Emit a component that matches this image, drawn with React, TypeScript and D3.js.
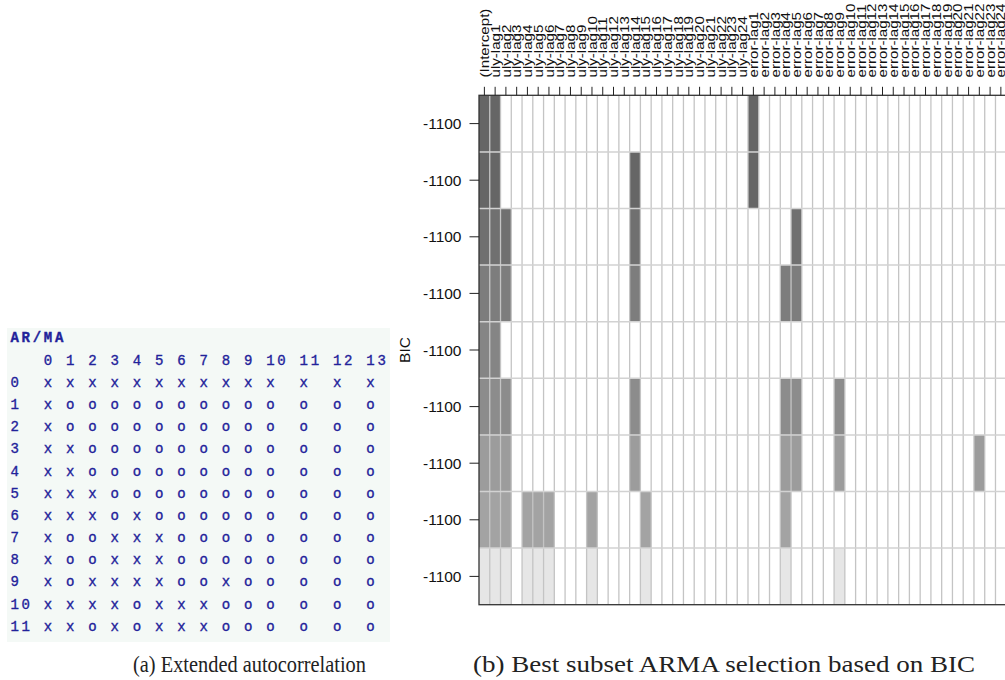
import React from "react";
import * as d3 from "d3";

// ---------- (a) Extended autocorrelation table ----------
const eacfAR = ["0", "1", "2", "3", "4", "5", "6", "7", "8", "9", "10", "11"];
const eacfMA = ["0", "1", "2", "3", "4", "5", "6", "7", "8", "9", "10", "11", "12", "13"];
const eacfSymbols = [
  "xxxxxxxxxxxxxx",
  "xooooooooooooo",
  "xooooooooooooo",
  "xxoooooooooooo",
  "xxoooooooooooo",
  "xxxooooooooooo",
  "xxxoxooooooooo",
  "xooxxxoooooooo",
  "xooxxxoooooooo",
  "xoxxxxooxooooo",
  "xxxxoxxxoooooo",
  "xxoxoxxxoooooo",
];

// ---------- (b) Best subset ARMA selection ----------
const subsetColumns = [
  "(Intercept)",
  "uly-lag1", "uly-lag2", "uly-lag3", "uly-lag4", "uly-lag5", "uly-lag6",
  "uly-lag7", "uly-lag8", "uly-lag9", "uly-lag10", "uly-lag11", "uly-lag12",
  "uly-lag13", "uly-lag14", "uly-lag15", "uly-lag16", "uly-lag17", "uly-lag18",
  "uly-lag19", "uly-lag20", "uly-lag21", "uly-lag22", "uly-lag23", "uly-lag24",
  "error-lag1", "error-lag2", "error-lag3", "error-lag4", "error-lag5", "error-lag6",
  "error-lag7", "error-lag8", "error-lag9", "error-lag10", "error-lag11", "error-lag12",
  "error-lag13", "error-lag14", "error-lag15", "error-lag16", "error-lag17", "error-lag18",
  "error-lag19", "error-lag20", "error-lag21", "error-lag22", "error-lag23", "error-lag24",
];
// BIC of each model row (top = best)
const modelBIC = [-1110, -1110, -1108, -1105.5, -1104, -1102.5, -1099.5, -1098, -1085];
// indices into subsetColumns of the terms included in each model row
const modelTerms = [
  [0, 1, 25],
  [0, 1, 14, 25],
  [0, 1, 2, 14, 29],
  [0, 1, 2, 14, 28, 29],
  [0, 1],
  [0, 1, 2, 14, 28, 29, 33],
  [0, 1, 2, 14, 28, 29, 33, 46],
  [0, 1, 2, 4, 5, 6, 10, 15, 28],
  [0, 1, 2, 4, 5, 6, 10, 15, 28, 33],
];

const captionA = "(a) Extended autocorrelation";
const captionB = "(b) Best subset ARMA selection based on BIC";

export default function App() {
  // ---- EACF layout (character grid, like R's print of a character matrix) ----
  const charW = 11.12;
  const charX = d3.scaleLinear().domain([0, 1]).range([9.1, 9.1 + charW]);
  const monoSize = 14;
  const monoAdvance = monoSize * 0.6;
  const letterSp = charW - monoAdvance;
  const rowLabelWidth = d3.max(eacfAR, (d) => d.length) as number;
  const colStarts: number[] = [];
  let pos = rowLabelWidth + 1;
  eacfMA.forEach((m) => {
    colStarts.push(pos);
    pos += Math.max(m.length, 1) + 1;
  });
  const rowY = d3
    .scaleLinear()
    .domain([0, eacfAR.length - 1])
    .range([387, 387 + 22.15 * (eacfAR.length - 1)]);
  const textBlue = "#22229a";
  const monoFont = "'Liberation Mono', 'DejaVu Sans Mono', monospace";
  const glyphOffset = (charW - monoAdvance) / 2;

  // ---- subset plot layout ----
  const left = 479;
  const top = 95.3;
  const bottom = 604.7;
  const colW = 10.76;
  const x = d3
    .scaleBand<string>()
    .domain(subsetColumns)
    .range([left, left + colW * subsetColumns.length]);
  const rowKeys = modelBIC.map((_, i) => String(i));
  const y = d3.scaleBand<string>().domain(rowKeys).range([top, bottom]);
  const grayScale = d3
    .scaleLinear()
    .domain([d3.min(modelBIC) as number, d3.max(modelBIC) as number])
    .range([0.4, 0.9]);
  const shade = (v: number) => {
    const g = Math.round(grayScale(v) * 255);
    return d3.rgb(g, g, g).toString();
  };
  const right = left + colW * subsetColumns.length;
  const sans = "'Liberation Sans', Arial, sans-serif";
  const fmtBIC = (v: number) => String(Math.round(v / 100) * 100);

  return (
    <svg
      width={1005}
      height={680}
      style={{ position: "absolute", left: 0, top: 0, background: "#fff" }}
    >
      <rect x={0} y={0} width={1005} height={680} fill="#ffffff" />

      {/* ---------- (a) EACF ---------- */}
      <rect x={7} y={328} width={383} height={314} fill="#f4f9f6" />
      <g
        fontFamily={monoFont}
        fontSize={monoSize}
        fill={textBlue}
        stroke={textBlue}
        strokeWidth={0.35}
        style={{ letterSpacing: `${letterSp}px` }}
      >
        <text x={charX(0) + glyphOffset} y={341.7} fontWeight="bold">AR/MA</text>
        {eacfMA.map((m, j) => (
          <text key={"h" + j} x={charX(colStarts[j]) + glyphOffset} y={365}>
            {m}
          </text>
        ))}
        {eacfAR.map((ar, i) => (
          <g key={"r" + i}>
            <text x={charX(0) + glyphOffset} y={rowY(i)}>
              {ar}
            </text>
            {eacfSymbols[i].split("").map((s, j) => (
              <text key={j} x={charX(colStarts[j]) + glyphOffset} y={rowY(i)}>
                {s}
              </text>
            ))}
          </g>
        ))}
      </g>

      {/* ---------- (b) subset selection ---------- */}
      <g>
        {modelTerms.map((terms, r) =>
          terms.map((t) => (
            <rect
              key={r + "-" + t}
              x={x(subsetColumns[t])}
              y={y(String(r))}
              width={x.bandwidth()}
              height={y.bandwidth()}
              fill={shade(modelBIC[r])}
            />
          ))
        )}
        {/* vertical grid */}
        {subsetColumns.map((c, i) =>
          i === 0 ? null : (
            <line
              key={"vg" + i}
              x1={x(c)}
              x2={x(c)}
              y1={top}
              y2={bottom}
              stroke="#c4c4c4"
              strokeWidth={1.3}
            />
          )
        )}
        {/* horizontal grid */}
        {rowKeys.map((k, i) =>
          i === 0 ? null : (
            <line
              key={"hg" + i}
              x1={left}
              x2={right}
              y1={y(k)}
              y2={y(k)}
              stroke="#d2d2d2"
              strokeWidth={1.5}
            />
          )
        )}
        {/* box */}
        <rect x={left} y={top} width={right - left} height={bottom - top} fill="none" stroke="#333" strokeWidth={1.3} />
        {/* top ticks */}
        {subsetColumns.map((c) => {
          const cx = (x(c) as number) + x.bandwidth() / 2;
          return <line key={"tt" + c} x1={cx} x2={cx} y1={top - 8.5} y2={top} stroke="#222" strokeWidth={1} />;
        })}
        {/* left ticks */}
        {rowKeys.map((k) => {
          const cy = (y(k) as number) + y.bandwidth() / 2;
          return <line key={"lt" + k} x1={left - 9.5} x2={left} y1={cy} y2={cy} stroke="#222" strokeWidth={1} />;
        })}
        {/* column labels */}
        <g fontFamily={sans} fontSize={13.5} fill="#111">
          {subsetColumns.map((c) => {
            const cx = (x(c) as number) + x.bandwidth() / 2;
            return (
              <text
                key={"cl" + c}
                transform={`translate(${cx + 4.6},77.5) rotate(-90) scale(1.12,1)`}
                textAnchor="start"
              >
                {c}
              </text>
            );
          })}
        </g>
        {/* BIC labels */}
        <g fontFamily={sans} fontSize={15.5} fill="#111">
          {rowKeys.map((k, i) => {
            const cy = (y(k) as number) + y.bandwidth() / 2;
            return (
              <text key={"bl" + k} x={461.5} y={cy + 5.5} textAnchor="end">
                {fmtBIC(modelBIC[i])}
              </text>
            );
          })}
          <text transform={`translate(410,${(top + bottom) / 2}) rotate(-90)`} textAnchor="middle">
            BIC
          </text>
        </g>
      </g>

      {/* ---------- captions ---------- */}
      <g fontFamily="'Liberation Serif', 'DejaVu Serif', serif" fontSize={23.5} fill="#222">
        <text x={133} y={672} textLength={233} lengthAdjust="spacingAndGlyphs">
          {captionA}
        </text>
        <text x={473} y={672} textLength={502} lengthAdjust="spacingAndGlyphs">
          {captionB}
        </text>
      </g>
    </svg>
  );
}
